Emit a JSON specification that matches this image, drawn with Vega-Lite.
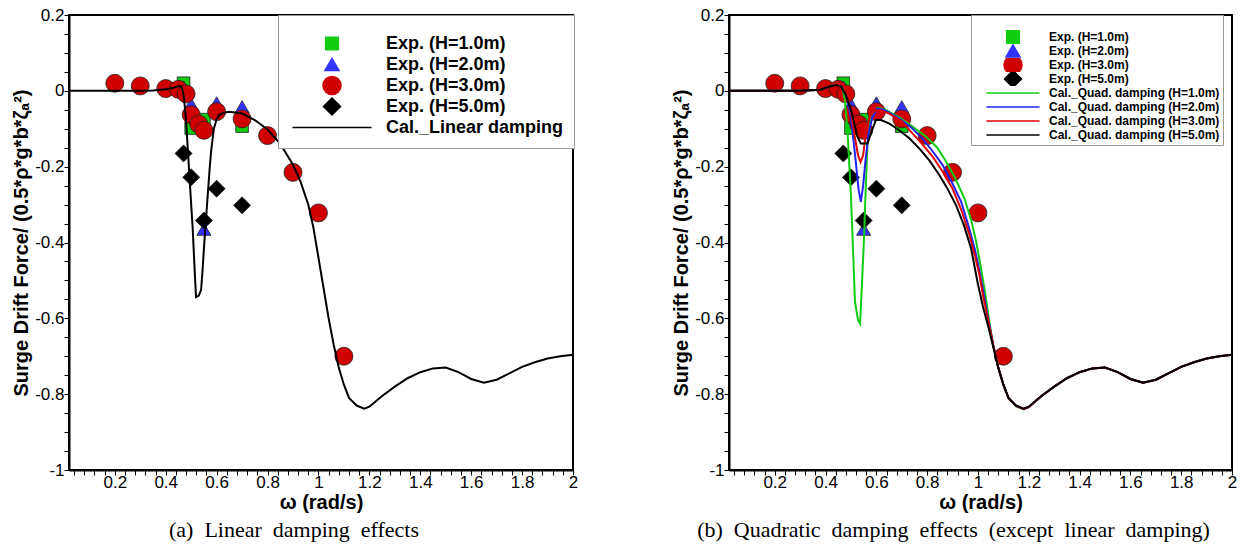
{
  "$schema": "https://vega.github.io/schema/vega-lite/v6.json",
  "background": "white",
  "padding": {"left": 10, "top": 5, "right": 2, "bottom": 0},
  "spacing": 91,
  "config": {
    "view": {"stroke": "black", "strokeWidth": 2},
    "font": "Liberation Sans"
  },
  "resolve": {"scale": {"color": "independent", "shape": "independent", "size": "independent", "x": "independent", "y": "independent"}, "legend": {"color": "independent", "shape": "independent", "size": "independent"}},
  "datasets": {
    "exp": [
      {"series": "Exp. (H=1.0m)", "w": 0.47, "f": 0.02},
      {"series": "Exp. (H=1.0m)", "w": 0.5, "f": -0.098},
      {"series": "Exp. (H=1.0m)", "w": 0.55, "f": -0.076},
      {"series": "Exp. (H=1.0m)", "w": 0.7, "f": -0.093},
      {"series": "Exp. (H=2.0m)", "w": 0.47, "f": 0.01},
      {"series": "Exp. (H=2.0m)", "w": 0.5, "f": -0.035},
      {"series": "Exp. (H=2.0m)", "w": 0.55, "f": -0.365},
      {"series": "Exp. (H=2.0m)", "w": 0.6, "f": -0.032},
      {"series": "Exp. (H=2.0m)", "w": 0.7, "f": -0.042},
      {"series": "Exp. (H=3.0m)", "w": 0.2, "f": 0.02},
      {"series": "Exp. (H=3.0m)", "w": 0.3, "f": 0.013},
      {"series": "Exp. (H=3.0m)", "w": 0.4, "f": 0.006},
      {"series": "Exp. (H=3.0m)", "w": 0.45, "f": 0.004},
      {"series": "Exp. (H=3.0m)", "w": 0.48, "f": -0.008},
      {"series": "Exp. (H=3.0m)", "w": 0.5, "f": -0.063},
      {"series": "Exp. (H=3.0m)", "w": 0.53, "f": -0.088},
      {"series": "Exp. (H=3.0m)", "w": 0.55, "f": -0.104},
      {"series": "Exp. (H=3.0m)", "w": 0.6, "f": -0.055},
      {"series": "Exp. (H=3.0m)", "w": 0.7, "f": -0.074},
      {"series": "Exp. (H=3.0m)", "w": 0.8, "f": -0.118},
      {"series": "Exp. (H=3.0m)", "w": 0.9, "f": -0.215},
      {"series": "Exp. (H=3.0m)", "w": 1.0, "f": -0.322},
      {"series": "Exp. (H=3.0m)", "w": 1.1, "f": -0.7},
      {"series": "Exp. (H=5.0m)", "w": 0.47, "f": -0.165},
      {"series": "Exp. (H=5.0m)", "w": 0.5, "f": -0.228},
      {"series": "Exp. (H=5.0m)", "w": 0.55, "f": -0.342},
      {"series": "Exp. (H=5.0m)", "w": 0.6, "f": -0.258},
      {"series": "Exp. (H=5.0m)", "w": 0.7, "f": -0.302}
    ],
    "lin": [
      {"series": "Cal._Linear damping", "w": 0.02, "f": 0},
      {"series": "Cal._Linear damping", "w": 0.2, "f": 0},
      {"series": "Cal._Linear damping", "w": 0.3, "f": 0},
      {"series": "Cal._Linear damping", "w": 0.35, "f": 0.001},
      {"series": "Cal._Linear damping", "w": 0.4, "f": 0.004},
      {"series": "Cal._Linear damping", "w": 0.43, "f": 0.008},
      {"series": "Cal._Linear damping", "w": 0.45, "f": 0.012},
      {"series": "Cal._Linear damping", "w": 0.46, "f": 0.012},
      {"series": "Cal._Linear damping", "w": 0.465, "f": 0.005},
      {"series": "Cal._Linear damping", "w": 0.472, "f": -0.02},
      {"series": "Cal._Linear damping", "w": 0.48, "f": -0.08},
      {"series": "Cal._Linear damping", "w": 0.49, "f": -0.19},
      {"series": "Cal._Linear damping", "w": 0.5, "f": -0.3},
      {"series": "Cal._Linear damping", "w": 0.506, "f": -0.363},
      {"series": "Cal._Linear damping", "w": 0.512, "f": -0.45},
      {"series": "Cal._Linear damping", "w": 0.519, "f": -0.544},
      {"series": "Cal._Linear damping", "w": 0.53, "f": -0.54},
      {"series": "Cal._Linear damping", "w": 0.539, "f": -0.525},
      {"series": "Cal._Linear damping", "w": 0.545, "f": -0.47},
      {"series": "Cal._Linear damping", "w": 0.55, "f": -0.416},
      {"series": "Cal._Linear damping", "w": 0.558, "f": -0.34},
      {"series": "Cal._Linear damping", "w": 0.565, "f": -0.275},
      {"series": "Cal._Linear damping", "w": 0.572, "f": -0.21},
      {"series": "Cal._Linear damping", "w": 0.578, "f": -0.161},
      {"series": "Cal._Linear damping", "w": 0.589, "f": -0.1},
      {"series": "Cal._Linear damping", "w": 0.6, "f": -0.075},
      {"series": "Cal._Linear damping", "w": 0.61, "f": -0.064},
      {"series": "Cal._Linear damping", "w": 0.63, "f": -0.057},
      {"series": "Cal._Linear damping", "w": 0.65, "f": -0.055},
      {"series": "Cal._Linear damping", "w": 0.7, "f": -0.06},
      {"series": "Cal._Linear damping", "w": 0.75, "f": -0.077},
      {"series": "Cal._Linear damping", "w": 0.8, "f": -0.102},
      {"series": "Cal._Linear damping", "w": 0.85, "f": -0.14},
      {"series": "Cal._Linear damping", "w": 0.9, "f": -0.195},
      {"series": "Cal._Linear damping", "w": 0.93, "f": -0.24},
      {"series": "Cal._Linear damping", "w": 0.96, "f": -0.3},
      {"series": "Cal._Linear damping", "w": 0.98, "f": -0.36},
      {"series": "Cal._Linear damping", "w": 1.0, "f": -0.44},
      {"series": "Cal._Linear damping", "w": 1.02, "f": -0.52},
      {"series": "Cal._Linear damping", "w": 1.04, "f": -0.6},
      {"series": "Cal._Linear damping", "w": 1.06, "f": -0.67},
      {"series": "Cal._Linear damping", "w": 1.08, "f": -0.73},
      {"series": "Cal._Linear damping", "w": 1.1, "f": -0.775},
      {"series": "Cal._Linear damping", "w": 1.12, "f": -0.81},
      {"series": "Cal._Linear damping", "w": 1.15, "f": -0.83},
      {"series": "Cal._Linear damping", "w": 1.18, "f": -0.838},
      {"series": "Cal._Linear damping", "w": 1.2, "f": -0.833},
      {"series": "Cal._Linear damping", "w": 1.25, "f": -0.805},
      {"series": "Cal._Linear damping", "w": 1.3, "f": -0.78},
      {"series": "Cal._Linear damping", "w": 1.35, "f": -0.758},
      {"series": "Cal._Linear damping", "w": 1.4, "f": -0.742},
      {"series": "Cal._Linear damping", "w": 1.45, "f": -0.732},
      {"series": "Cal._Linear damping", "w": 1.5, "f": -0.73},
      {"series": "Cal._Linear damping", "w": 1.55, "f": -0.742},
      {"series": "Cal._Linear damping", "w": 1.6, "f": -0.76},
      {"series": "Cal._Linear damping", "w": 1.65, "f": -0.77},
      {"series": "Cal._Linear damping", "w": 1.7, "f": -0.762},
      {"series": "Cal._Linear damping", "w": 1.75, "f": -0.745},
      {"series": "Cal._Linear damping", "w": 1.8, "f": -0.728},
      {"series": "Cal._Linear damping", "w": 1.85, "f": -0.716},
      {"series": "Cal._Linear damping", "w": 1.9, "f": -0.706},
      {"series": "Cal._Linear damping", "w": 1.95, "f": -0.7},
      {"series": "Cal._Linear damping", "w": 2.0, "f": -0.696}
    ],
    "quad": [
      {"series": "Cal._Quad. damping (H=1.0m)", "w": 0.02, "f": 0},
      {"series": "Cal._Quad. damping (H=1.0m)", "w": 0.3, "f": 0},
      {"series": "Cal._Quad. damping (H=1.0m)", "w": 0.38, "f": 0.003},
      {"series": "Cal._Quad. damping (H=1.0m)", "w": 0.42, "f": 0.012},
      {"series": "Cal._Quad. damping (H=1.0m)", "w": 0.45, "f": 0.02},
      {"series": "Cal._Quad. damping (H=1.0m)", "w": 0.465, "f": 0.015},
      {"series": "Cal._Quad. damping (H=1.0m)", "w": 0.475, "f": -0.02},
      {"series": "Cal._Quad. damping (H=1.0m)", "w": 0.486, "f": -0.1},
      {"series": "Cal._Quad. damping (H=1.0m)", "w": 0.5, "f": -0.275},
      {"series": "Cal._Quad. damping (H=1.0m)", "w": 0.51, "f": -0.45},
      {"series": "Cal._Quad. damping (H=1.0m)", "w": 0.516, "f": -0.557},
      {"series": "Cal._Quad. damping (H=1.0m)", "w": 0.528, "f": -0.605},
      {"series": "Cal._Quad. damping (H=1.0m)", "w": 0.536, "f": -0.614},
      {"series": "Cal._Quad. damping (H=1.0m)", "w": 0.544, "f": -0.5},
      {"series": "Cal._Quad. damping (H=1.0m)", "w": 0.552, "f": -0.381},
      {"series": "Cal._Quad. damping (H=1.0m)", "w": 0.558, "f": -0.26},
      {"series": "Cal._Quad. damping (H=1.0m)", "w": 0.565, "f": -0.143},
      {"series": "Cal._Quad. damping (H=1.0m)", "w": 0.575, "f": -0.09},
      {"series": "Cal._Quad. damping (H=1.0m)", "w": 0.585, "f": -0.064},
      {"series": "Cal._Quad. damping (H=1.0m)", "w": 0.604, "f": -0.045},
      {"series": "Cal._Quad. damping (H=1.0m)", "w": 0.63, "f": -0.048},
      {"series": "Cal._Quad. damping (H=1.0m)", "w": 0.69, "f": -0.07},
      {"series": "Cal._Quad. damping (H=1.0m)", "w": 0.74, "f": -0.093},
      {"series": "Cal._Quad. damping (H=1.0m)", "w": 0.796, "f": -0.121},
      {"series": "Cal._Quad. damping (H=1.0m)", "w": 0.84, "f": -0.15},
      {"series": "Cal._Quad. damping (H=1.0m)", "w": 0.875, "f": -0.187},
      {"series": "Cal._Quad. damping (H=1.0m)", "w": 0.91, "f": -0.23},
      {"series": "Cal._Quad. damping (H=1.0m)", "w": 0.947, "f": -0.284},
      {"series": "Cal._Quad. damping (H=1.0m)", "w": 0.975, "f": -0.345},
      {"series": "Cal._Quad. damping (H=1.0m)", "w": 0.993, "f": -0.398},
      {"series": "Cal._Quad. damping (H=1.0m)", "w": 1.01, "f": -0.46},
      {"series": "Cal._Quad. damping (H=1.0m)", "w": 1.03, "f": -0.54},
      {"series": "Cal._Quad. damping (H=1.0m)", "w": 1.045, "f": -0.61},
      {"series": "Cal._Quad. damping (H=1.0m)", "w": 1.06, "f": -0.67},
      {"series": "Cal._Quad. damping (H=1.0m)", "w": 1.08, "f": -0.73},
      {"series": "Cal._Quad. damping (H=1.0m)", "w": 1.1, "f": -0.775},
      {"series": "Cal._Quad. damping (H=1.0m)", "w": 1.12, "f": -0.81},
      {"series": "Cal._Quad. damping (H=1.0m)", "w": 1.15, "f": -0.832},
      {"series": "Cal._Quad. damping (H=1.0m)", "w": 1.18, "f": -0.84},
      {"series": "Cal._Quad. damping (H=1.0m)", "w": 1.2, "f": -0.834},
      {"series": "Cal._Quad. damping (H=1.0m)", "w": 1.25, "f": -0.805},
      {"series": "Cal._Quad. damping (H=1.0m)", "w": 1.3, "f": -0.78},
      {"series": "Cal._Quad. damping (H=1.0m)", "w": 1.35, "f": -0.758},
      {"series": "Cal._Quad. damping (H=1.0m)", "w": 1.4, "f": -0.742},
      {"series": "Cal._Quad. damping (H=1.0m)", "w": 1.45, "f": -0.732},
      {"series": "Cal._Quad. damping (H=1.0m)", "w": 1.5, "f": -0.73},
      {"series": "Cal._Quad. damping (H=1.0m)", "w": 1.55, "f": -0.742},
      {"series": "Cal._Quad. damping (H=1.0m)", "w": 1.6, "f": -0.76},
      {"series": "Cal._Quad. damping (H=1.0m)", "w": 1.65, "f": -0.77},
      {"series": "Cal._Quad. damping (H=1.0m)", "w": 1.7, "f": -0.762},
      {"series": "Cal._Quad. damping (H=1.0m)", "w": 1.75, "f": -0.745},
      {"series": "Cal._Quad. damping (H=1.0m)", "w": 1.8, "f": -0.728},
      {"series": "Cal._Quad. damping (H=1.0m)", "w": 1.85, "f": -0.716},
      {"series": "Cal._Quad. damping (H=1.0m)", "w": 1.9, "f": -0.706},
      {"series": "Cal._Quad. damping (H=1.0m)", "w": 1.95, "f": -0.7},
      {"series": "Cal._Quad. damping (H=1.0m)", "w": 2.0, "f": -0.696},
      {"series": "Cal._Quad. damping (H=2.0m)", "w": 0.02, "f": 0},
      {"series": "Cal._Quad. damping (H=2.0m)", "w": 0.3, "f": 0},
      {"series": "Cal._Quad. damping (H=2.0m)", "w": 0.38, "f": 0.003},
      {"series": "Cal._Quad. damping (H=2.0m)", "w": 0.42, "f": 0.012},
      {"series": "Cal._Quad. damping (H=2.0m)", "w": 0.45, "f": 0.02},
      {"series": "Cal._Quad. damping (H=2.0m)", "w": 0.47, "f": 0.012},
      {"series": "Cal._Quad. damping (H=2.0m)", "w": 0.485, "f": -0.02},
      {"series": "Cal._Quad. damping (H=2.0m)", "w": 0.5, "f": -0.073},
      {"series": "Cal._Quad. damping (H=2.0m)", "w": 0.51, "f": -0.13},
      {"series": "Cal._Quad. damping (H=2.0m)", "w": 0.519, "f": -0.187},
      {"series": "Cal._Quad. damping (H=2.0m)", "w": 0.53, "f": -0.26},
      {"series": "Cal._Quad. damping (H=2.0m)", "w": 0.539, "f": -0.293},
      {"series": "Cal._Quad. damping (H=2.0m)", "w": 0.548, "f": -0.25},
      {"series": "Cal._Quad. damping (H=2.0m)", "w": 0.558, "f": -0.179},
      {"series": "Cal._Quad. damping (H=2.0m)", "w": 0.57, "f": -0.11},
      {"series": "Cal._Quad. damping (H=2.0m)", "w": 0.585, "f": -0.069},
      {"series": "Cal._Quad. damping (H=2.0m)", "w": 0.604, "f": -0.047},
      {"series": "Cal._Quad. damping (H=2.0m)", "w": 0.63, "f": -0.05},
      {"series": "Cal._Quad. damping (H=2.0m)", "w": 0.69, "f": -0.073},
      {"series": "Cal._Quad. damping (H=2.0m)", "w": 0.74, "f": -0.098},
      {"series": "Cal._Quad. damping (H=2.0m)", "w": 0.782, "f": -0.126},
      {"series": "Cal._Quad. damping (H=2.0m)", "w": 0.82, "f": -0.158},
      {"series": "Cal._Quad. damping (H=2.0m)", "w": 0.861, "f": -0.196},
      {"series": "Cal._Quad. damping (H=2.0m)", "w": 0.9, "f": -0.245},
      {"series": "Cal._Quad. damping (H=2.0m)", "w": 0.934, "f": -0.293},
      {"series": "Cal._Quad. damping (H=2.0m)", "w": 0.96, "f": -0.35},
      {"series": "Cal._Quad. damping (H=2.0m)", "w": 0.987, "f": -0.416},
      {"series": "Cal._Quad. damping (H=2.0m)", "w": 1.0, "f": -0.455},
      {"series": "Cal._Quad. damping (H=2.0m)", "w": 1.02, "f": -0.525},
      {"series": "Cal._Quad. damping (H=2.0m)", "w": 1.04, "f": -0.6},
      {"series": "Cal._Quad. damping (H=2.0m)", "w": 1.06, "f": -0.67},
      {"series": "Cal._Quad. damping (H=2.0m)", "w": 1.08, "f": -0.73},
      {"series": "Cal._Quad. damping (H=2.0m)", "w": 1.1, "f": -0.775},
      {"series": "Cal._Quad. damping (H=2.0m)", "w": 1.12, "f": -0.81},
      {"series": "Cal._Quad. damping (H=2.0m)", "w": 1.15, "f": -0.831},
      {"series": "Cal._Quad. damping (H=2.0m)", "w": 1.18, "f": -0.839},
      {"series": "Cal._Quad. damping (H=2.0m)", "w": 1.2, "f": -0.834},
      {"series": "Cal._Quad. damping (H=2.0m)", "w": 1.25, "f": -0.805},
      {"series": "Cal._Quad. damping (H=2.0m)", "w": 1.3, "f": -0.78},
      {"series": "Cal._Quad. damping (H=2.0m)", "w": 1.35, "f": -0.758},
      {"series": "Cal._Quad. damping (H=2.0m)", "w": 1.4, "f": -0.742},
      {"series": "Cal._Quad. damping (H=2.0m)", "w": 1.45, "f": -0.732},
      {"series": "Cal._Quad. damping (H=2.0m)", "w": 1.5, "f": -0.73},
      {"series": "Cal._Quad. damping (H=2.0m)", "w": 1.55, "f": -0.742},
      {"series": "Cal._Quad. damping (H=2.0m)", "w": 1.6, "f": -0.76},
      {"series": "Cal._Quad. damping (H=2.0m)", "w": 1.65, "f": -0.77},
      {"series": "Cal._Quad. damping (H=2.0m)", "w": 1.7, "f": -0.762},
      {"series": "Cal._Quad. damping (H=2.0m)", "w": 1.75, "f": -0.745},
      {"series": "Cal._Quad. damping (H=2.0m)", "w": 1.8, "f": -0.728},
      {"series": "Cal._Quad. damping (H=2.0m)", "w": 1.85, "f": -0.716},
      {"series": "Cal._Quad. damping (H=2.0m)", "w": 1.9, "f": -0.706},
      {"series": "Cal._Quad. damping (H=2.0m)", "w": 1.95, "f": -0.7},
      {"series": "Cal._Quad. damping (H=2.0m)", "w": 2.0, "f": -0.696},
      {"series": "Cal._Quad. damping (H=3.0m)", "w": 0.02, "f": 0},
      {"series": "Cal._Quad. damping (H=3.0m)", "w": 0.3, "f": 0},
      {"series": "Cal._Quad. damping (H=3.0m)", "w": 0.38, "f": 0.003},
      {"series": "Cal._Quad. damping (H=3.0m)", "w": 0.42, "f": 0.012},
      {"series": "Cal._Quad. damping (H=3.0m)", "w": 0.45, "f": 0.02},
      {"series": "Cal._Quad. damping (H=3.0m)", "w": 0.47, "f": 0.015},
      {"series": "Cal._Quad. damping (H=3.0m)", "w": 0.485, "f": -0.01},
      {"series": "Cal._Quad. damping (H=3.0m)", "w": 0.5, "f": -0.055},
      {"series": "Cal._Quad. damping (H=3.0m)", "w": 0.515, "f": -0.12},
      {"series": "Cal._Quad. damping (H=3.0m)", "w": 0.528, "f": -0.17},
      {"series": "Cal._Quad. damping (H=3.0m)", "w": 0.538, "f": -0.188},
      {"series": "Cal._Quad. damping (H=3.0m)", "w": 0.548, "f": -0.17},
      {"series": "Cal._Quad. damping (H=3.0m)", "w": 0.561, "f": -0.1},
      {"series": "Cal._Quad. damping (H=3.0m)", "w": 0.575, "f": -0.065},
      {"series": "Cal._Quad. damping (H=3.0m)", "w": 0.598, "f": -0.051},
      {"series": "Cal._Quad. damping (H=3.0m)", "w": 0.62, "f": -0.052},
      {"series": "Cal._Quad. damping (H=3.0m)", "w": 0.65, "f": -0.06},
      {"series": "Cal._Quad. damping (H=3.0m)", "w": 0.7, "f": -0.08},
      {"series": "Cal._Quad. damping (H=3.0m)", "w": 0.743, "f": -0.113},
      {"series": "Cal._Quad. damping (H=3.0m)", "w": 0.78, "f": -0.14},
      {"series": "Cal._Quad. damping (H=3.0m)", "w": 0.822, "f": -0.174},
      {"series": "Cal._Quad. damping (H=3.0m)", "w": 0.86, "f": -0.212},
      {"series": "Cal._Quad. damping (H=3.0m)", "w": 0.9, "f": -0.258},
      {"series": "Cal._Quad. damping (H=3.0m)", "w": 0.935, "f": -0.315},
      {"series": "Cal._Quad. damping (H=3.0m)", "w": 0.967, "f": -0.381},
      {"series": "Cal._Quad. damping (H=3.0m)", "w": 0.99, "f": -0.44},
      {"series": "Cal._Quad. damping (H=3.0m)", "w": 1.006, "f": -0.486},
      {"series": "Cal._Quad. damping (H=3.0m)", "w": 1.02, "f": -0.54},
      {"series": "Cal._Quad. damping (H=3.0m)", "w": 1.04, "f": -0.605},
      {"series": "Cal._Quad. damping (H=3.0m)", "w": 1.06, "f": -0.67},
      {"series": "Cal._Quad. damping (H=3.0m)", "w": 1.08, "f": -0.73},
      {"series": "Cal._Quad. damping (H=3.0m)", "w": 1.1, "f": -0.775},
      {"series": "Cal._Quad. damping (H=3.0m)", "w": 1.12, "f": -0.81},
      {"series": "Cal._Quad. damping (H=3.0m)", "w": 1.15, "f": -0.831},
      {"series": "Cal._Quad. damping (H=3.0m)", "w": 1.18, "f": -0.839},
      {"series": "Cal._Quad. damping (H=3.0m)", "w": 1.2, "f": -0.834},
      {"series": "Cal._Quad. damping (H=3.0m)", "w": 1.25, "f": -0.805},
      {"series": "Cal._Quad. damping (H=3.0m)", "w": 1.3, "f": -0.78},
      {"series": "Cal._Quad. damping (H=3.0m)", "w": 1.35, "f": -0.758},
      {"series": "Cal._Quad. damping (H=3.0m)", "w": 1.4, "f": -0.742},
      {"series": "Cal._Quad. damping (H=3.0m)", "w": 1.45, "f": -0.732},
      {"series": "Cal._Quad. damping (H=3.0m)", "w": 1.5, "f": -0.73},
      {"series": "Cal._Quad. damping (H=3.0m)", "w": 1.55, "f": -0.742},
      {"series": "Cal._Quad. damping (H=3.0m)", "w": 1.6, "f": -0.76},
      {"series": "Cal._Quad. damping (H=3.0m)", "w": 1.65, "f": -0.77},
      {"series": "Cal._Quad. damping (H=3.0m)", "w": 1.7, "f": -0.762},
      {"series": "Cal._Quad. damping (H=3.0m)", "w": 1.75, "f": -0.745},
      {"series": "Cal._Quad. damping (H=3.0m)", "w": 1.8, "f": -0.728},
      {"series": "Cal._Quad. damping (H=3.0m)", "w": 1.85, "f": -0.716},
      {"series": "Cal._Quad. damping (H=3.0m)", "w": 1.9, "f": -0.706},
      {"series": "Cal._Quad. damping (H=3.0m)", "w": 1.95, "f": -0.7},
      {"series": "Cal._Quad. damping (H=3.0m)", "w": 2.0, "f": -0.696},
      {"series": "Cal._Quad. damping (H=5.0m)", "w": 0.02, "f": 0},
      {"series": "Cal._Quad. damping (H=5.0m)", "w": 0.3, "f": 0},
      {"series": "Cal._Quad. damping (H=5.0m)", "w": 0.38, "f": 0.003},
      {"series": "Cal._Quad. damping (H=5.0m)", "w": 0.41, "f": 0.01},
      {"series": "Cal._Quad. damping (H=5.0m)", "w": 0.44, "f": 0.015},
      {"series": "Cal._Quad. damping (H=5.0m)", "w": 0.46, "f": 0.012},
      {"series": "Cal._Quad. damping (H=5.0m)", "w": 0.48, "f": -0.011},
      {"series": "Cal._Quad. damping (H=5.0m)", "w": 0.5, "f": -0.05},
      {"series": "Cal._Quad. damping (H=5.0m)", "w": 0.512, "f": -0.082},
      {"series": "Cal._Quad. damping (H=5.0m)", "w": 0.525, "f": -0.12},
      {"series": "Cal._Quad. damping (H=5.0m)", "w": 0.539, "f": -0.139},
      {"series": "Cal._Quad. damping (H=5.0m)", "w": 0.565, "f": -0.139},
      {"series": "Cal._Quad. damping (H=5.0m)", "w": 0.58, "f": -0.11},
      {"series": "Cal._Quad. damping (H=5.0m)", "w": 0.598, "f": -0.077},
      {"series": "Cal._Quad. damping (H=5.0m)", "w": 0.618, "f": -0.077},
      {"series": "Cal._Quad. damping (H=5.0m)", "w": 0.65, "f": -0.086},
      {"series": "Cal._Quad. damping (H=5.0m)", "w": 0.69, "f": -0.104},
      {"series": "Cal._Quad. damping (H=5.0m)", "w": 0.73, "f": -0.125},
      {"series": "Cal._Quad. damping (H=5.0m)", "w": 0.769, "f": -0.152},
      {"series": "Cal._Quad. damping (H=5.0m)", "w": 0.81, "f": -0.185},
      {"series": "Cal._Quad. damping (H=5.0m)", "w": 0.848, "f": -0.222},
      {"series": "Cal._Quad. damping (H=5.0m)", "w": 0.88, "f": -0.258},
      {"series": "Cal._Quad. damping (H=5.0m)", "w": 0.914, "f": -0.302},
      {"series": "Cal._Quad. damping (H=5.0m)", "w": 0.945, "f": -0.355},
      {"series": "Cal._Quad. damping (H=5.0m)", "w": 0.973, "f": -0.416},
      {"series": "Cal._Quad. damping (H=5.0m)", "w": 1.0, "f": -0.51},
      {"series": "Cal._Quad. damping (H=5.0m)", "w": 1.02, "f": -0.57},
      {"series": "Cal._Quad. damping (H=5.0m)", "w": 1.04, "f": -0.62},
      {"series": "Cal._Quad. damping (H=5.0m)", "w": 1.06, "f": -0.675},
      {"series": "Cal._Quad. damping (H=5.0m)", "w": 1.08, "f": -0.73},
      {"series": "Cal._Quad. damping (H=5.0m)", "w": 1.1, "f": -0.775},
      {"series": "Cal._Quad. damping (H=5.0m)", "w": 1.12, "f": -0.81},
      {"series": "Cal._Quad. damping (H=5.0m)", "w": 1.15, "f": -0.83},
      {"series": "Cal._Quad. damping (H=5.0m)", "w": 1.18, "f": -0.838},
      {"series": "Cal._Quad. damping (H=5.0m)", "w": 1.2, "f": -0.833},
      {"series": "Cal._Quad. damping (H=5.0m)", "w": 1.25, "f": -0.805},
      {"series": "Cal._Quad. damping (H=5.0m)", "w": 1.3, "f": -0.78},
      {"series": "Cal._Quad. damping (H=5.0m)", "w": 1.35, "f": -0.758},
      {"series": "Cal._Quad. damping (H=5.0m)", "w": 1.4, "f": -0.742},
      {"series": "Cal._Quad. damping (H=5.0m)", "w": 1.45, "f": -0.732},
      {"series": "Cal._Quad. damping (H=5.0m)", "w": 1.5, "f": -0.73},
      {"series": "Cal._Quad. damping (H=5.0m)", "w": 1.55, "f": -0.742},
      {"series": "Cal._Quad. damping (H=5.0m)", "w": 1.6, "f": -0.76},
      {"series": "Cal._Quad. damping (H=5.0m)", "w": 1.65, "f": -0.77},
      {"series": "Cal._Quad. damping (H=5.0m)", "w": 1.7, "f": -0.762},
      {"series": "Cal._Quad. damping (H=5.0m)", "w": 1.75, "f": -0.745},
      {"series": "Cal._Quad. damping (H=5.0m)", "w": 1.8, "f": -0.728},
      {"series": "Cal._Quad. damping (H=5.0m)", "w": 1.85, "f": -0.716},
      {"series": "Cal._Quad. damping (H=5.0m)", "w": 1.9, "f": -0.706},
      {"series": "Cal._Quad. damping (H=5.0m)", "w": 1.95, "f": -0.7},
      {"series": "Cal._Quad. damping (H=5.0m)", "w": 2.0, "f": -0.696}
    ]
  },
  "hconcat": [
    {
      "width": 504,
      "height": 455,
      "title": {"text": "(a)\u2002Linear\u2002damping\u2002effects", "orient": "bottom", "anchor": "middle", "dx": -27, "offset": 8, "font": "Liberation Serif", "fontSize": 22, "fontWeight": "normal", "color": "black"},
      "encoding": {
        "x": {"field": "w", "type": "quantitative", "scale": {"domain": [0.02, 2], "nice": false, "zero": false},
          "axis": {"title": "\u03c9 (rad/s)", "titleFont": "Liberation Sans", "titleFontSize": 20, "titleFontWeight": "bold", "titleColor": "black", "titlePadding": 2,
            "values": [0.04,0.08,0.12,0.16,0.2,0.24,0.28,0.32,0.36,0.4,0.44,0.48,0.52,0.56,0.6,0.64,0.68,0.72,0.76,0.8,0.84,0.88,0.92,0.96,1,1.04,1.08,1.12,1.16,1.2,1.24,1.28,1.32,1.36,1.4,1.44,1.48,1.52,1.56,1.6,1.64,1.68,1.72,1.76,1.8,1.84,1.88,1.92,1.96,2],
            "labelExpr": "indexof([0.2,0.4,0.6,0.8,1,1.2,1.4,1.6,1.8,2], datum.value) >= 0 ? '' + datum.value : ''",
            "labelFont": "Liberation Sans", "labelFontSize": 17, "labelColor": "black", "labelPadding": -1, "labelFlush": false, "labelOverlap": false,
            "ticks": true, "tickColor": "black", "tickSize": 5,
            "encode": {"ticks": {"update": {"y2": {"signal": "indexof([0.2,0.4,0.6,0.8,1,1.2,1.4,1.6,1.8,2], datum.value) >= 0 ? -10 : -5"}, "strokeWidth": {"signal": "indexof([0.2,0.4,0.6,0.8,1,1.2,1.4,1.6,1.8,2], datum.value) >= 0 ? 2 : 1"}}}},
            "domainColor": "black", "domainWidth": 2, "grid": false}},
        "y": {"field": "f", "type": "quantitative", "scale": {"domain": [-1, 0.2], "nice": false, "zero": false},
          "axis": {"title": "Surge Drift Force/ (0.5*\u03c1*g*b*\u03b6\u2090\u00b2)", "titleFont": "Liberation Sans", "titleFontSize": 20, "titleFontWeight": "bold", "titleColor": "black", "titlePadding": 3,
            "values": [0.2,0.15,0.1,0.05,0,-0.05,-0.1,-0.15,-0.2,-0.25,-0.3,-0.35,-0.4,-0.45,-0.5,-0.55,-0.6,-0.65,-0.7,-0.75,-0.8,-0.85,-0.9,-0.95,-1],
            "labelExpr": "indexof([0.2,0,-0.2,-0.4,-0.6,-0.8,-1], datum.value) >= 0 ? '' + datum.value : ''",
            "labelFont": "Liberation Sans", "labelFontSize": 17, "labelColor": "black", "labelPadding": 0, "labelFlush": false, "labelOverlap": false,
            "ticks": true, "tickColor": "black", "tickSize": 5,
            "encode": {"ticks": {"update": {"x2": {"signal": "indexof([0.2,0,-0.2,-0.4,-0.6,-0.8,-1], datum.value) >= 0 ? 10 : 5"}, "strokeWidth": {"signal": "indexof([0.2,0,-0.2,-0.4,-0.6,-0.8,-1], datum.value) >= 0 ? 2 : 1"}}}},
            "domainColor": "black", "domainWidth": 2, "grid": false}}
      },
      "layer": [
        {
          "data": {"name": "exp"},
          "mark": {"type": "point", "filled": true, "opacity": 1, "stroke": "#222222", "strokeWidth": 0.8},
          "encoding": {
            "color": {"field": "series", "type": "nominal",
              "scale": {"domain": ["Exp. (H=1.0m)", "Exp. (H=2.0m)", "Exp. (H=3.0m)", "Exp. (H=5.0m)", "Cal._Linear damping"], "range": ["#11cc11", "#3333ff", "#d00000", "#000000", "#000000"]},
              "legend": {"title": "\u2003", "titleFontSize": 7, "titlePadding": 1, "orient": "none", "legendX": 209, "legendY": 0, "padding": 10, "strokeColor": "#999999", "fillColor": "white",
                "labelFont": "Liberation Sans", "labelFontSize": 18, "labelFontWeight": "bold", "labelColor": "black", "symbolOffset": 34, "labelOffset": 44, "rowPadding": 0, "clipHeight": 21, "labelLimit": 0, "symbolOpacity": 1,
                "encode": {"symbols": {"update": {"stroke": {"signal": "datum.value === 'Cal._Linear damping' ? '#000000' : '#222222'"}, "strokeWidth": {"signal": "datum.value === 'Cal._Linear damping' ? 2.5 : 0.8"}}}}}},
            "shape": {"field": "series", "type": "nominal",
              "scale": {"domain": ["Exp. (H=1.0m)", "Exp. (H=2.0m)", "Exp. (H=3.0m)", "Exp. (H=5.0m)", "Cal._Linear damping"], "range": ["square", "triangle-up", "circle", "diamond", "M-4.94,0L4.94,0"]}},
            "size": {"field": "series", "type": "nominal",
              "scale": {"type": "ordinal", "domain": ["Exp. (H=1.0m)", "Exp. (H=2.0m)", "Exp. (H=3.0m)", "Exp. (H=5.0m)", "Cal._Linear damping"], "range": [160, 200, 324, 290, 256]}}
          }
        },
        {
          "data": {"name": "lin"},
          "mark": {"type": "line", "strokeWidth": 2},
          "encoding": {
            "color": {"field": "series", "type": "nominal"}
          }
        }
      ]
    },
    {
      "width": 503,
      "height": 455,
      "title": {"text": "(b)\u2002Quadratic\u2002damping\u2002effects\u2002(except\u2002linear\u2002damping)", "orient": "bottom", "anchor": "middle", "dx": -27, "offset": 8, "font": "Liberation Serif", "fontSize": 22, "fontWeight": "normal", "color": "black"},
      "encoding": {
        "x": {"field": "w", "type": "quantitative", "scale": {"domain": [0.02, 2], "nice": false, "zero": false},
          "axis": {"title": "\u03c9 (rad/s)", "titleFont": "Liberation Sans", "titleFontSize": 20, "titleFontWeight": "bold", "titleColor": "black", "titlePadding": 2,
            "values": [0.04,0.08,0.12,0.16,0.2,0.24,0.28,0.32,0.36,0.4,0.44,0.48,0.52,0.56,0.6,0.64,0.68,0.72,0.76,0.8,0.84,0.88,0.92,0.96,1,1.04,1.08,1.12,1.16,1.2,1.24,1.28,1.32,1.36,1.4,1.44,1.48,1.52,1.56,1.6,1.64,1.68,1.72,1.76,1.8,1.84,1.88,1.92,1.96,2],
            "labelExpr": "indexof([0.2,0.4,0.6,0.8,1,1.2,1.4,1.6,1.8,2], datum.value) >= 0 ? '' + datum.value : ''",
            "labelFont": "Liberation Sans", "labelFontSize": 17, "labelColor": "black", "labelPadding": -1, "labelFlush": false, "labelOverlap": false,
            "ticks": true, "tickColor": "black", "tickSize": 5,
            "encode": {"ticks": {"update": {"y2": {"signal": "indexof([0.2,0.4,0.6,0.8,1,1.2,1.4,1.6,1.8,2], datum.value) >= 0 ? -10 : -5"}, "strokeWidth": {"signal": "indexof([0.2,0.4,0.6,0.8,1,1.2,1.4,1.6,1.8,2], datum.value) >= 0 ? 2 : 1"}}}},
            "domainColor": "black", "domainWidth": 2, "grid": false}},
        "y": {"field": "f", "type": "quantitative", "scale": {"domain": [-1, 0.2], "nice": false, "zero": false},
          "axis": {"title": "Surge Drift Force/ (0.5*\u03c1*g*b*\u03b6\u2090\u00b2)", "titleFont": "Liberation Sans", "titleFontSize": 20, "titleFontWeight": "bold", "titleColor": "black", "titlePadding": 3,
            "values": [0.2,0.15,0.1,0.05,0,-0.05,-0.1,-0.15,-0.2,-0.25,-0.3,-0.35,-0.4,-0.45,-0.5,-0.55,-0.6,-0.65,-0.7,-0.75,-0.8,-0.85,-0.9,-0.95,-1],
            "labelExpr": "indexof([0.2,0,-0.2,-0.4,-0.6,-0.8,-1], datum.value) >= 0 ? '' + datum.value : ''",
            "labelFont": "Liberation Sans", "labelFontSize": 17, "labelColor": "black", "labelPadding": 0, "labelFlush": false, "labelOverlap": false,
            "ticks": true, "tickColor": "black", "tickSize": 5,
            "encode": {"ticks": {"update": {"x2": {"signal": "indexof([0.2,0,-0.2,-0.4,-0.6,-0.8,-1], datum.value) >= 0 ? 10 : 5"}, "strokeWidth": {"signal": "indexof([0.2,0,-0.2,-0.4,-0.6,-0.8,-1], datum.value) >= 0 ? 2 : 1"}}}},
            "domainColor": "black", "domainWidth": 2, "grid": false}}
      },
      "layer": [
        {
          "data": {"name": "exp"},
          "mark": {"type": "point", "filled": true, "opacity": 1, "stroke": "#222222", "strokeWidth": 0.8},
          "encoding": {
            "color": {"field": "series", "type": "nominal",
              "scale": {"domain": ["Exp. (H=1.0m)", "Exp. (H=2.0m)", "Exp. (H=3.0m)", "Exp. (H=5.0m)", "Cal._Quad. damping (H=1.0m)", "Cal._Quad. damping (H=2.0m)", "Cal._Quad. damping (H=3.0m)", "Cal._Quad. damping (H=5.0m)"], "range": ["#11cc11", "#3333ff", "#d00000", "#000000", "#11cc11", "#2222ee", "#dd0000", "#000000"]},
              "legend": {"title": "\u2003\u2003\u2003\u2003\u2003\u2003\u2003\u2003\u2003\u2003\u2003\u2003\u2003\u2003\u2003\u2003\u2003\u2003\u2003\u2003\u2003\u2003\u2003", "titleFontSize": 11, "titlePadding": 1, "titleLimit": 0, "orient": "none", "legendX": 242, "legendY": 0, "padding": 3, "strokeColor": "#999999", "fillColor": "white",
                "labelFont": "Liberation Sans", "labelFontSize": 12, "labelFontWeight": "bold", "labelColor": "black", "symbolOffset": 29, "labelOffset": 26, "rowPadding": 0, "clipHeight": 14, "labelLimit": 0, "symbolOpacity": 1,
                "encode": {"symbols": {"update": {
                  "size": {"signal": "datum.value === 'Exp. (H=1.0m)' ? 170 : datum.value === 'Exp. (H=2.0m)' ? 190 : datum.value === 'Exp. (H=3.0m)' ? 180 : 196"},
                  "stroke": {"signal": "indexof(datum.value, 'Cal') === 0 ? (indexof(datum.value, '1.0m') > 0 ? '#11cc11' : indexof(datum.value, '2.0m') > 0 ? '#2222ee' : indexof(datum.value, '3.0m') > 0 ? '#dd0000' : '#000000') : '#222222'"},
                  "strokeWidth": {"signal": "indexof(datum.value, 'Cal') === 0 ? 2.5 : 0.8"}}}}}},
            "shape": {"field": "series", "type": "nominal",
              "scale": {"domain": ["Exp. (H=1.0m)", "Exp. (H=2.0m)", "Exp. (H=3.0m)", "Exp. (H=5.0m)", "Cal._Quad. damping (H=1.0m)", "Cal._Quad. damping (H=2.0m)", "Cal._Quad. damping (H=3.0m)", "Cal._Quad. damping (H=5.0m)"], "range": ["square", "triangle-up", "circle", "diamond", "M-3.79,0L3.79,0", "M-3.79,0L3.79,0", "M-3.79,0L3.79,0", "M-3.79,0L3.79,0"]}},
            "size": {"field": "series", "type": "nominal",
              "scale": {"type": "ordinal", "domain": ["Exp. (H=1.0m)", "Exp. (H=2.0m)", "Exp. (H=3.0m)", "Exp. (H=5.0m)", "Cal._Quad. damping (H=1.0m)", "Cal._Quad. damping (H=2.0m)", "Cal._Quad. damping (H=3.0m)", "Cal._Quad. damping (H=5.0m)"], "range": [160, 200, 324, 290, 196, 196, 196, 196]}}
          }
        },
        {
          "data": {"name": "quad"},
          "mark": {"type": "line", "strokeWidth": 2},
          "encoding": {
            "color": {"field": "series", "type": "nominal"}
          }
        }
      ]
    }
  ]
}
